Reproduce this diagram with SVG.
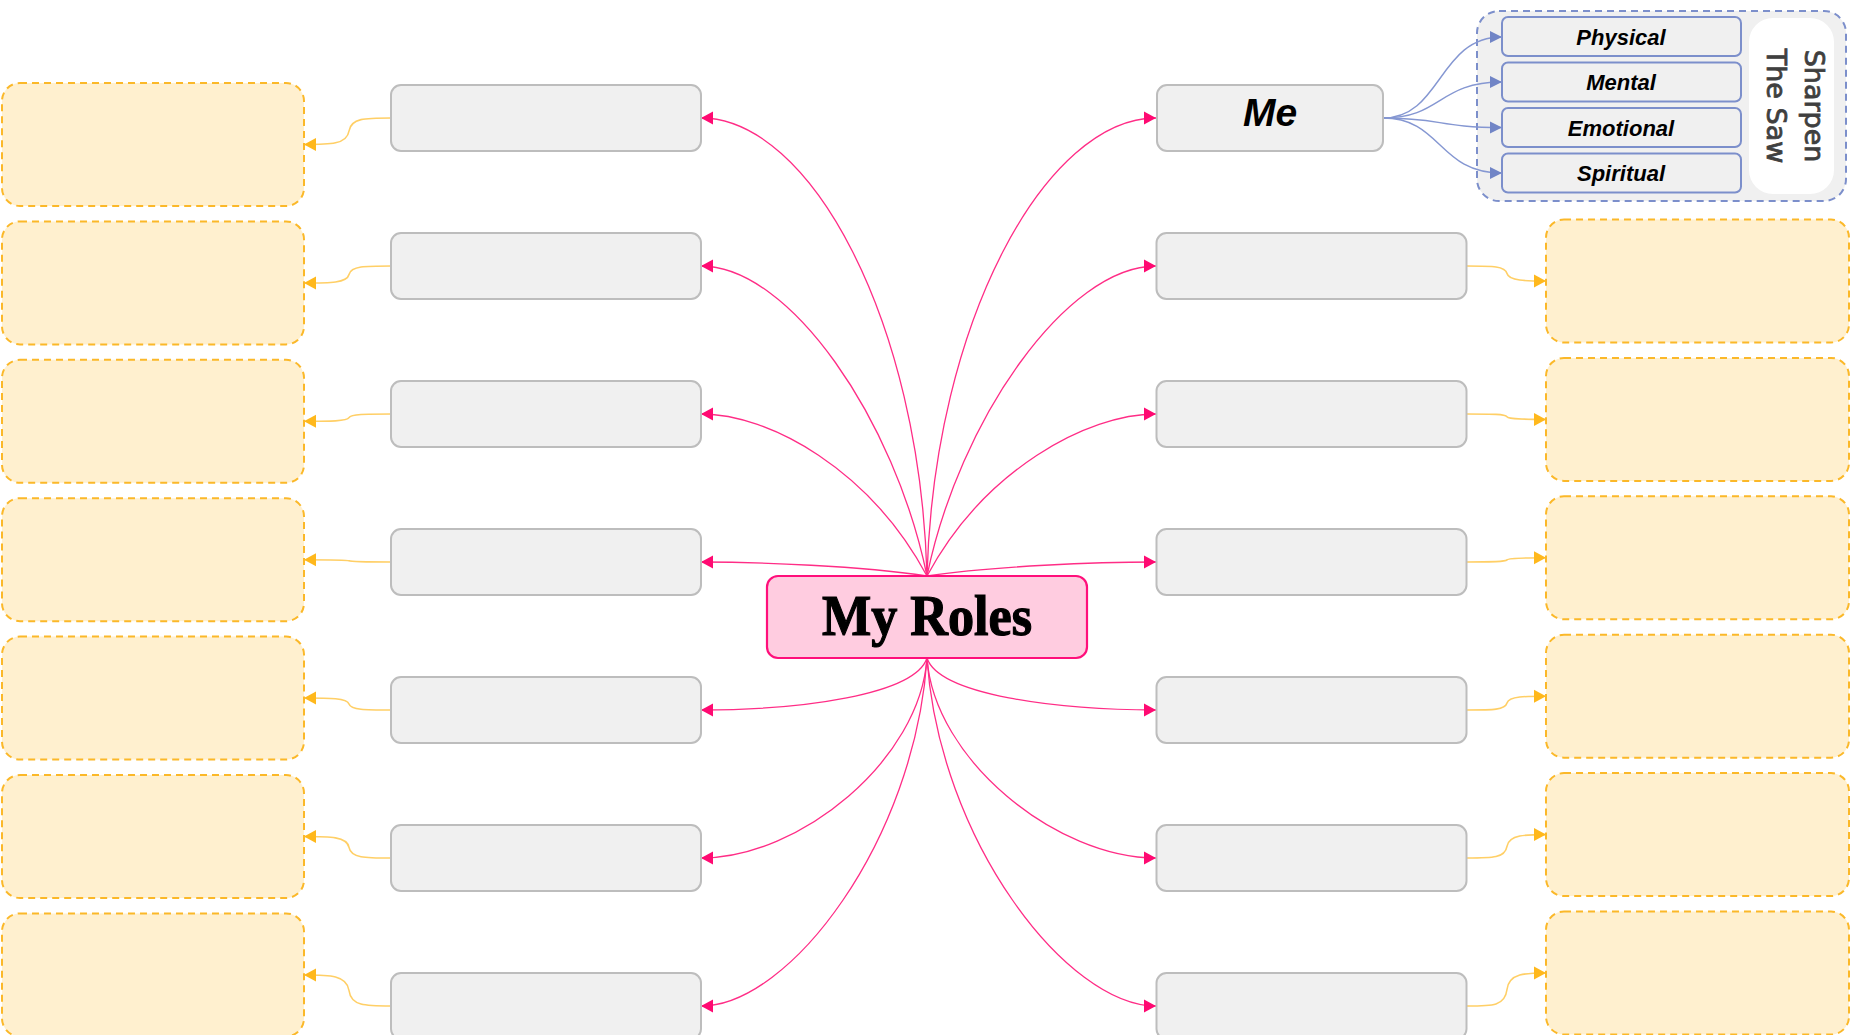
<svg xmlns="http://www.w3.org/2000/svg" width="1856" height="1035" viewBox="0 0 1856 1035">
<style>
.gray{fill:#F0F0F0;stroke:#BDBDBD;stroke-width:2}
.yel{fill:#FFF0CF;stroke:#FBB829;stroke-width:2;stroke-dasharray:7 5}
.sub{fill:#F0F0F0;stroke:#7C8FCB;stroke-width:2}
.pink{fill:none;stroke:#FF2D86;stroke-width:1.3}
.amb{fill:none;stroke:#FFCF66;stroke-width:1.6}
.blu{fill:none;stroke:#8597D2;stroke-width:1.4}
.subt{font-family:"Liberation Sans",Arial,sans-serif;font-weight:bold;font-style:italic;font-size:22px;fill:#000;text-anchor:middle}
</style>
<defs>
<marker id="mp" markerUnits="userSpaceOnUse" markerWidth="14" markerHeight="14" refX="12" refY="7" orient="auto"><path d="M0,0.5 L12,7 L0,13.5 Z" fill="#FF0A72"/></marker>
<marker id="ma" markerUnits="userSpaceOnUse" markerWidth="14" markerHeight="14" refX="12" refY="7" orient="auto"><path d="M0,0.5 L12,7 L0,13.5 Z" fill="#FFB81C"/></marker>
<marker id="mb" markerUnits="userSpaceOnUse" markerWidth="14" markerHeight="14" refX="12" refY="7" orient="auto"><path d="M0,1 L12,7 L0,13 Z" fill="#7185C6"/></marker>
</defs>
<rect width="1856" height="1035" fill="#FFFFFF"/>

<g id="saw-group">
<rect x="1477" y="11" width="369" height="190" rx="22" fill="#F0F0F0" stroke="#7C8FCB" stroke-width="2" stroke-dasharray="7 5"/>
<rect x="1749" y="18" width="85" height="176" rx="24" fill="#FFFFFF"/>
<text transform="translate(1791,106) rotate(90)" font-family="DejaVu Sans,sans-serif" font-size="27" fill="#3F3F3F" stroke="#3F3F3F" stroke-width="0.8" text-anchor="middle"><tspan x="0" y="-14">Sharpen</tspan><tspan x="0" y="24">The Saw</tspan></text>
</g>
<g id="physical"><rect class="sub" x="1502" y="17" width="239" height="39" rx="6"/><text class="subt" x="1621" y="45">Physical</text></g>
<g id="mental"><rect class="sub" x="1502" y="62.5" width="239" height="39" rx="6"/><text class="subt" x="1621" y="90">Mental</text></g>
<g id="emotional"><rect class="sub" x="1502" y="108" width="239" height="39" rx="6"/><text class="subt" x="1621" y="135.5">Emotional</text></g>
<g id="spiritual"><rect class="sub" x="1502" y="153.5" width="239" height="39" rx="6"/><text class="subt" x="1621" y="181">Spiritual</text></g>

<g id="connectors">
<path class="pink" marker-end="url(#mp)" d="M927,576 C920,320 810,118 701,118"/>
<path class="pink" marker-end="url(#mp)" d="M927,576 C895,420 790,266 701,266"/>
<path class="pink" marker-end="url(#mp)" d="M927,576 C870,470 770,414 701,414"/>
<path class="pink" marker-end="url(#mp)" d="M927,576 C860,566 760,562 701,562"/>
<path class="pink" marker-end="url(#mp)" d="M927,576 C934,320 1047,118 1156,118"/>
<path class="pink" marker-end="url(#mp)" d="M927,576 C959,420 1067,266 1156,266"/>
<path class="pink" marker-end="url(#mp)" d="M927,576 C984,470 1087,414 1156,414"/>
<path class="pink" marker-end="url(#mp)" d="M927,576 C994,566 1097,562 1156,562"/>
<path class="pink" marker-end="url(#mp)" d="M927,658 C915,695 800,710 701,710"/>
<path class="pink" marker-end="url(#mp)" d="M927,658 C920,760 800,858 701,858"/>
<path class="pink" marker-end="url(#mp)" d="M927,658 C915,840 790,1006 701,1006"/>
<path class="pink" marker-end="url(#mp)" d="M927,658 C939,695 1057,710 1156,710"/>
<path class="pink" marker-end="url(#mp)" d="M927,658 C934,760 1057,858 1156,858"/>
<path class="pink" marker-end="url(#mp)" d="M927,658 C939,840 1067,1006 1156,1006"/>
<path class="amb" marker-end="url(#ma)" d="M391,118 C365,118 351,118 349,131 C347,144.5 330,144.5 304,144.5"/>
<path class="amb" marker-end="url(#ma)" d="M391,266 C365,266 351,266 349,274.5 C347,283 330,283 304,283"/>
<path class="amb" marker-end="url(#ma)" d="M391,414 C365,414 351,414 349,417.7 C347,421.3 330,421.3 304,421.3"/>
<path class="amb" marker-end="url(#ma)" d="M391,562 C365,562 351,562 349,560.8 C347,559.7 330,559.7 304,559.7"/>
<path class="amb" marker-end="url(#ma)" d="M391,710 C365,710 351,710 349,704 C347,698 330,698 304,698"/>
<path class="amb" marker-end="url(#ma)" d="M391,858 C365,858 351,858 349,847.3 C347,836.5 330,836.5 304,836.5"/>
<path class="amb" marker-end="url(#ma)" d="M391,1006 C365,1006 351,1006 349,990.5 C347,975 330,975 304,975"/>
<path class="amb" marker-end="url(#ma)" d="M1467,266 C1493,266 1505,266 1507,273.5 C1509,281 1526,281 1546,281"/>
<path class="amb" marker-end="url(#ma)" d="M1467,414 C1493,414 1505,414 1507,416.7 C1509,419.4 1526,419.4 1546,419.4"/>
<path class="amb" marker-end="url(#ma)" d="M1467,562 C1493,562 1505,562 1507,559.9 C1509,557.8 1526,557.8 1546,557.8"/>
<path class="amb" marker-end="url(#ma)" d="M1467,710 C1493,710 1505,710 1507,703 C1509,696.2 1526,696.2 1546,696.2"/>
<path class="amb" marker-end="url(#ma)" d="M1467,858 C1493,858 1505,858 1507,846.3 C1509,834.6 1526,834.6 1546,834.6"/>
<path class="amb" marker-end="url(#ma)" d="M1467,1006 C1493,1006 1505,1006 1507,989.5 C1509,973 1526,973 1546,973"/>
<path class="blu" marker-end="url(#mb)" d="M1383,118 C1442,118 1438,37 1502,37"/>
<path class="blu" marker-end="url(#mb)" d="M1383,118 C1442,118 1438,82 1502,82"/>
<path class="blu" marker-end="url(#mb)" d="M1383,118 C1442,118 1438,127.5 1502,127.5"/>
<path class="blu" marker-end="url(#mb)" d="M1383,118 C1442,118 1438,173 1502,173"/>
</g>

<g id="center">
<rect x="767" y="576" width="320" height="82" rx="11" fill="#FFCCE0" stroke="#FF0F7B" stroke-width="2.2"/>
<text x="927" y="635" font-family="Liberation Serif,Times New Roman,serif" font-weight="bold" font-size="56" text-anchor="middle" textLength="210" lengthAdjust="spacingAndGlyphs" fill="#000" stroke="#000" stroke-width="1.2">My Roles</text>
</g>

<g id="me"><rect class="gray" x="1157" y="85" width="226" height="66" rx="10"/><text x="1270" y="126" font-family="Liberation Sans,Arial,sans-serif" font-weight="bold" font-style="italic" font-size="39" text-anchor="middle" fill="#000">Me</text></g>

<g id="left-roles">
<rect class="gray" x="391" y="85" width="310" height="66" rx="10"/>
<rect class="gray" x="391" y="233" width="310" height="66" rx="10"/>
<rect class="gray" x="391" y="381" width="310" height="66" rx="10"/>
<rect class="gray" x="391" y="529" width="310" height="66" rx="10"/>
<rect class="gray" x="391" y="677" width="310" height="66" rx="10"/>
<rect class="gray" x="391" y="825" width="310" height="66" rx="10"/>
<rect class="gray" x="391" y="973" width="310" height="66" rx="10"/>
</g>
<g id="right-roles">
<rect class="gray" x="1156.5" y="233" width="310" height="66" rx="10"/>
<rect class="gray" x="1156.5" y="381" width="310" height="66" rx="10"/>
<rect class="gray" x="1156.5" y="529" width="310" height="66" rx="10"/>
<rect class="gray" x="1156.5" y="677" width="310" height="66" rx="10"/>
<rect class="gray" x="1156.5" y="825" width="310" height="66" rx="10"/>
<rect class="gray" x="1156.5" y="973" width="310" height="66" rx="10"/>
</g>
<g id="left-notes">
<rect class="yel" x="2" y="83" width="302" height="123" rx="18"/>
<rect class="yel" x="2" y="221.4" width="302" height="123" rx="18"/>
<rect class="yel" x="2" y="359.8" width="302" height="123" rx="18"/>
<rect class="yel" x="2" y="498.2" width="302" height="123" rx="18"/>
<rect class="yel" x="2" y="636.6" width="302" height="123" rx="18"/>
<rect class="yel" x="2" y="775" width="302" height="123" rx="18"/>
<rect class="yel" x="2" y="913.4" width="302" height="123" rx="18"/>
</g>
<g id="right-notes">
<rect class="yel" x="1546" y="219.5" width="303" height="123" rx="18"/>
<rect class="yel" x="1546" y="357.9" width="303" height="123" rx="18"/>
<rect class="yel" x="1546" y="496.3" width="303" height="123" rx="18"/>
<rect class="yel" x="1546" y="634.7" width="303" height="123" rx="18"/>
<rect class="yel" x="1546" y="773.1" width="303" height="123" rx="18"/>
<rect class="yel" x="1546" y="911.5" width="303" height="123" rx="18"/>
</g>
</svg>
